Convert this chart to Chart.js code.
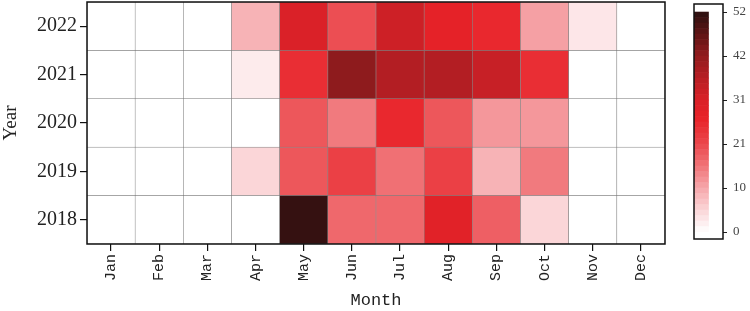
<!DOCTYPE html>
<html>
<head>
<meta charset="utf-8">
<script src="https://cdn.jsdelivr.net/npm/chart.js@4.4.1/dist/chart.umd.min.js"></script>
<style>
  html, body { margin: 0; padding: 0; background: #fff; }
  #wrap { position: relative; width: 750px; height: 311px; }
  #heat { position: absolute; left: 0; top: 0; }
  #cbar { position: absolute; left: 680px; top: 0; }
</style>
</head>
<body>
<div id="wrap">
  <canvas id="heat" width="750" height="311"></canvas>
  <canvas id="cbar" width="70" height="311"></canvas>
</div>
<script>
const months = ['Jan', 'Feb', 'Mar', 'Apr', 'May', 'Jun', 'Jul', 'Aug', 'Sep', 'Oct', 'Nov', 'Dec'];
const years = [2018, 2019, 2020, 2021, 2022];

// values per year, Jan..Dec
const v2018 = [0, 0, 0, 0, 51, 17, 17, 29, 18, 5, 0, 0];
const v2019 = [0, 0, 0, 5, 19, 22, 16, 22, 9, 15, 0, 0];
const v2020 = [0, 0, 0, 0, 19, 15, 26, 19, 12, 12, 0, 0];
const v2021 = [0, 0, 0, 2.5, 25, 42, 37, 37, 34, 25, 0, 0];
const v2022 = [0, 0, 0, 9, 31, 20, 33, 28, 26, 11, 3, 0];
const values = [v2018, v2019, v2020, v2021, v2022];

const cbarTicks = [0, 10.4, 20.8, 31.2, 41.6, 52];
const vmax = 52;

// colormap stops: value -> rgb
const cmapStops = [
  [0, [255, 255, 255]],
  [5, [251, 214, 216]],
  [10, [246, 170, 174]],
  [16, [240, 112, 116]],
  [21, [235, 70, 75]],
  [27, [232, 34, 40]],
  [31, [218, 33, 40]],
  [36, [186, 31, 36]],
  [42, [142, 27, 29]],
  [47, [92, 20, 21]],
  [52, [43, 16, 16]]
];

function cmap(v) {
  if (v <= cmapStops[0][0]) return 'rgb(255,255,255)';
  for (let i = 1; i < cmapStops.length; i++) {
    const [v1, c1] = cmapStops[i];
    const [v0, c0] = cmapStops[i - 1];
    if (v <= v1) {
      const t = (v - v0) / (v1 - v0);
      const c = c0.map((x, k) => Math.round(x + (c1[k] - x) * t));
      return `rgb(${c[0]},${c[1]},${c[2]})`;
    }
  }
  const c = cmapStops[cmapStops.length - 1][1];
  return `rgb(${c[0]},${c[1]},${c[2]})`;
}

// draws the black frame round the plot area
const frame = {
  id: 'frame',
  afterDraw(chart, args, opts) {
    const { ctx, chartArea: a } = chart;
    ctx.save();
    ctx.strokeStyle = '#111';
    ctx.lineWidth = opts.width || 1.5;
    ctx.strokeRect(a.left, a.top, a.right - a.left, a.bottom - a.top);
    ctx.restore();
  }
};

// no extra room for half-labels at the ends of vertical axes
function fitY(width) {
  return s => { s.width = width; s.paddingTop = 0; s.paddingBottom = 0; };
}

const heatDatasets = years.map((y, i) => ({
  label: String(y),
  data: values[i].map(() => [y - 0.5, y + 0.5]),
  backgroundColor: values[i].map(cmap),
  borderColor: 'rgba(110,110,110,0.75)',
  borderWidth: 0.6,
  borderSkipped: false,
  barPercentage: 1,
  categoryPercentage: 1,
  grouped: false
}));

new Chart(document.getElementById('heat'), {
  type: 'bar',
  data: { labels: months, datasets: heatDatasets },
  plugins: [frame],
  options: {
    responsive: false,
    animation: false,
    layout: { padding: { left: 0, top: 2, right: 85, bottom: 0 } },
    plugins: { legend: { display: false }, tooltip: { enabled: false }, frame: { width: 1.5 } },
    scales: {
      x: {
        type: 'category',
        offset: true,
        afterFit: s => { s.height = 67; s.paddingLeft = 0; s.paddingRight = 0; },
        grid: { offset: false, drawOnChartArea: false, tickLength: 7, color: '#111', lineWidth: 1.2 },
        border: { display: false },
        ticks: {
          autoSkip: false, minRotation: 90, maxRotation: 90, padding: 3,
          color: '#222', font: { family: '"Liberation Mono", "DejaVu Sans Mono", monospace', size: 15 }
        },
        title: {
          display: true, text: 'Month', color: '#222', padding: 0,
          font: { family: '"Liberation Mono", "DejaVu Sans Mono", monospace', size: 17 }
        }
      },
      y: {
        type: 'linear',
        min: 2017.5,
        max: 2022.5,
        afterFit: fitY(87),
        afterBuildTicks: s => { s.ticks = years.map(v => ({ value: v })); },
        grid: { drawOnChartArea: false, tickLength: 7, color: '#111', lineWidth: 1.2 },
        border: { display: false },
        ticks: {
          padding: 3, color: '#222',
          font: { family: '"Liberation Serif", "DejaVu Serif", serif', size: 20 },
          callback: v => String(v)
        },
        title: {
          display: true, text: 'Year', color: '#222', padding: 0,
          font: { family: '"Liberation Serif", "DejaVu Serif", serif', size: 19 }
        }
      }
    }
  }
});

// colour bar: stepped bands of the colormap
const bandCount = 40;
const cbarDatasets = [];
for (let i = 0; i < bandCount; i++) {
  const lo = vmax * i / bandCount, hi = vmax * (i + 1) / bandCount;
  cbarDatasets.push({
    data: [[lo, hi]],
    backgroundColor: cmap((lo + hi) / 2),
    borderWidth: 0,
    barPercentage: 1, categoryPercentage: 1, grouped: false
  });
}
cbarDatasets.push({
  data: [[vmax, 54]],
  backgroundColor: '#ffffff',
  borderWidth: 0,
  barPercentage: 1, categoryPercentage: 1, grouped: false
});

new Chart(document.getElementById('cbar'), {
  type: 'bar',
  data: { labels: [''], datasets: cbarDatasets },
  plugins: [frame],
  options: {
    responsive: false,
    animation: false,
    layout: { padding: { left: 14, top: 4, right: 0, bottom: 72 } },
    plugins: { legend: { display: false }, tooltip: { enabled: false }, frame: { width: 1.5 } },
    scales: {
      x: { display: false, offset: false },
      y: {
        position: 'right',
        min: -1.65,
        max: 53.9,
        afterFit: fitY(27),
        afterBuildTicks: s => { s.ticks = cbarTicks.map(v => ({ value: v })); },
        grid: { drawOnChartArea: false, tickLength: 4, color: '#222', lineWidth: 1 },
        border: { display: false },
        ticks: {
          padding: 6, color: '#444',
          font: { family: '"Liberation Serif", "DejaVu Serif", serif', size: 13 },
          callback: v => String(Math.round(v))
        }
      }
    }
  }
});
</script>
</body>
</html>
